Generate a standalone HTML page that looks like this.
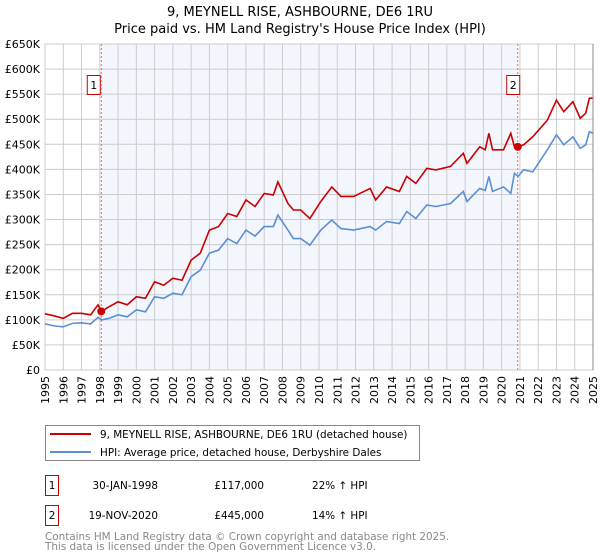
<!DOCTYPE html>
<html><head><meta charset="utf-8"><style>
body{margin:0;background:#fff;font-family:"Liberation Sans","DejaVu Sans",sans-serif;}
svg{display:block}
</style></head><body>
<svg width="600" height="560" viewBox="0 0 600 560" font-family="DejaVu Sans, Liberation Sans, sans-serif">
<text x="300" y="16" text-anchor="middle" font-size="13">9, MEYNELL RISE, ASHBOURNE, DE6 1RU</text>
<text x="300" y="33" text-anchor="middle" font-size="13">Price paid vs. HM Land Registry's House Price Index (HPI)</text>
<g id="plot"></g>
<g>
<rect x="45.5" y="425.5" width="374" height="35" fill="#fff" stroke="#888"/>
<line x1="50" y1="434" x2="91" y2="434" stroke="#cc0000" stroke-width="2"/>
<text x="100" y="438" font-size="10.4">9, MEYNELL RISE, ASHBOURNE, DE6 1RU (detached house)</text>
<line x1="50" y1="452" x2="91" y2="452" stroke="#5b8fd4" stroke-width="2"/>
<text x="100" y="456" font-size="10.4">HPI: Average price, detached house, Derbyshire Dales</text>
</g>
<g font-size="10.4">
<rect x="45.5" y="475.5" width="13" height="20" fill="#fff" stroke="#cc0000"/>
<text x="52" y="489" text-anchor="middle">1</text>
<text x="158" y="489" text-anchor="end">30-JAN-1998</text><text x="264" y="489" text-anchor="end">£117,000</text><text x="312" y="489">22% ↑ HPI</text>
<rect x="45.5" y="505.5" width="13" height="20" fill="#fff" stroke="#cc0000"/>
<text x="52" y="519" text-anchor="middle">2</text>
<text x="158" y="519" text-anchor="end">19-NOV-2020</text><text x="264" y="519" text-anchor="end">£445,000</text><text x="312" y="519">14% ↑ HPI</text>
</g>
<text x="45" y="540" font-size="10.4" fill="#888">Contains HM Land Registry data © Crown copyright and database right 2025.</text>
<text x="45" y="550" font-size="10.4" fill="#888">This data is licensed under the Open Government Licence v3.0.</text>
</svg>
<script>
const hpiYears=[1995,1995.5,1996,1996.5,1997,1997.5,1997.9,1998.1,1998.5,1999,1999.5,2000,2000.5,2001,2001.5,2002,2002.5,2003,2003.5,2004,2004.5,2005,2005.5,2006,2006.5,2007,2007.5,2007.75,2008.3,2008.6,2009,2009.5,2010.1,2010.7,2011.2,2011.9,2012.8,2013.1,2013.7,2014.4,2014.8,2015.3,2015.9,2016.4,2017.2,2017.9,2018.1,2018.8,2019.1,2019.3,2019.5,2020.1,2020.5,2020.7,2020.9,2021.2,2021.7,2022.5,2023,2023.4,2023.9,2024.3,2024.6,2024.8,2025];
const hpiValues=[92,88,86,93,94,92,105,100,103,110,106,120,116,146,143,153,150,186,199,233,239,262,252,279,267,286,286,309,279,262,262,249,279,299,282,279,286,279,296,292,316,302,329,326,332,356,336,362,358,386,356,365,352,392,386,399,395,439,469,449,465,442,449,475,472];
const propValues=[112,108,103,113,113,110,130,117,126,136,130,146,143,176,169,183,179,219,233,279,286,312,306,339,326,352,349,375,332,319,319,302,336,365,346,346,362,339,365,356,386,372,402,399,406,432,412,445,439,472,439,439,472,445,445,449,465,498,538,515,535,502,512,542,542];
const saleDates=[1998.08,2020.88];
const salePrices=[117,445];
const saleLabels=["1","2"];
const yTicks=[0,50,100,150,200,250,300,350,400,450,500,550,600,650];
const yTickLabels=["£0","£50K","£100K","£150K","£200K","£250K","£300K","£350K","£400K","£450K","£500K","£550K","£600K","£650K"];
const xTicks=[];for(let y=1995;y<=2025;y++)xTicks.push(y);
const NS="http://www.w3.org/2000/svg";
const L=45,R=593,T=44,B=370;
const xs=y=>L+(y-1995)/30*(R-L);
const ys=v=>B-v/650*(B-T);
const g=document.getElementById('plot');
function mk(t,a,p){const e=document.createElementNS(NS,t);for(const k in a)e.setAttribute(k,a[k]);(p||g).appendChild(e);return e;}
mk('rect',{x:L,y:T,width:R-L,height:B-T,fill:'#fff'});
const sh=mk('rect',{x:xs(saleDates[0]),y:T,width:xs(saleDates[1])-xs(saleDates[0]),height:B-T,fill:'#eef2fc',opacity:0.7});


yTicks.forEach((v,i)=>{
 mk('line',{x1:L,x2:R,y1:ys(v),y2:ys(v),stroke:'#ccc','stroke-width':1});
 const t=mk('text',{x:L-5,y:ys(v)+4,'text-anchor':'end','font-size':11});
 t.textContent=yTickLabels[i];
 
 
});
xTicks.forEach(yr=>{
 mk('line',{x1:xs(yr),x2:xs(yr),y1:T,y2:B,stroke:'#ccc','stroke-width':1});
 const t=mk('text',{x:0,y:0,'font-size':11,'text-anchor':'end',transform:`translate(${xs(yr)+4},${B+6}) rotate(-90)`});
 t.textContent=yr;
 
 
});
mk('rect',{x:L,y:T,width:R-L,height:B-T,fill:'none',stroke:'#ccc'});
saleDates.forEach((d,i)=>{
 const l=mk('line',{x1:xs(d),x2:xs(d),y1:T,y2:B,stroke:'#e66','stroke-dasharray':'2,2','stroke-width':1});
 
 
});
const hp=mk('polyline',{points:hpiYears.map((y,i)=>xs(y)+','+ys(hpiValues[i])).join(' '),fill:'none',stroke:'#5b8fd4','stroke-width':1.6});


const pp=mk('polyline',{points:hpiYears.map((y,i)=>xs(y)+','+ys(propValues[i])).join(' '),fill:'none',stroke:'#cc0000','stroke-width':1.6});


saleDates.forEach((d,i)=>{
 const c=mk('circle',{cx:xs(d),cy:ys(salePrices[i]),r:4,fill:'#cc0000'});
 
 
 const r=mk('rect',{x:xs(d)-14+(i==0?0:3),y:75.5,width:13,height:19,fill:'#fff',stroke:'#cc0000'});
 
 
 const t=mk('text',{x:xs(d)-7.5+(i==0?0:3),y:89,'font-size':11,'text-anchor':'middle'});
 t.textContent=saleLabels[i];
 
 
});
mk('line',{x1:R,x2:R,y1:T,y2:B,stroke:'#888'});
</script>
</body></html>
